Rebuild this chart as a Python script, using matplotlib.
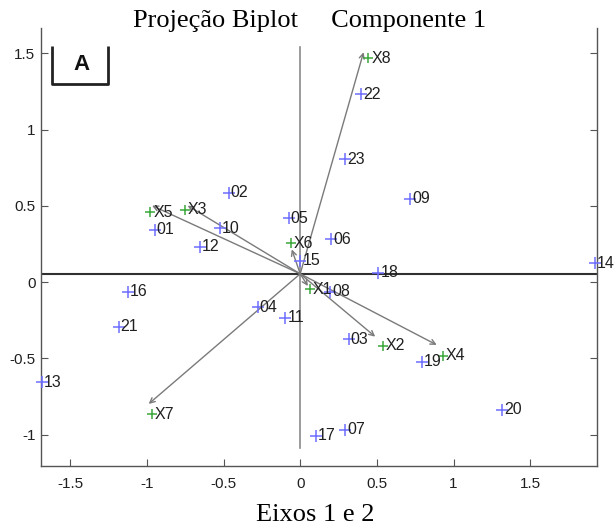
import matplotlib
matplotlib.use("Agg")
import matplotlib.pyplot as plt
from matplotlib.lines import Line2D

# ---- data ----
obs_labels = ['01', '02', '03', '04', '05', '06', '07', '08', '09', '10', '11', '12',
              '13', '14', '15', '16', '17', '18', '19', '20', '21', '22', '23']
obs_x = [-0.949, -0.467, 0.315, -0.278, -0.076, 0.200, 0.293, 0.195, 0.717, -0.526, -0.098, -0.656,
         -1.685, 1.922, 0.000, -1.123, 0.104, 0.510, 0.793, 1.314, -1.184, 0.397, 0.293]
obs_y = [0.343, 0.588, -0.374, -0.164, 0.420, 0.282, -0.969, -0.062, 0.546, 0.354, -0.232, 0.233,
         -0.656, 0.125, 0.140, -0.061, -1.006, 0.063, -0.521, -0.837, -0.291, 1.233, 0.807]

var_labels = ['X1', 'X2', 'X3', 'X4', 'X5', 'X6', 'X7', 'X8']
var_x = [0.065, 0.539, -0.749, 0.930, -0.977, -0.061, -0.966, 0.445]
var_y = [-0.046, -0.418, 0.474, -0.483, 0.459, 0.256, -0.866, 1.469]
# arrow tips of the loading vectors
vec_x = [0.050, 0.489, -0.734, 0.890, -0.966, -0.055, -0.988, 0.413]
vec_y = [-0.025, -0.357, 0.502, -0.411, 0.502, 0.215, -0.798, 1.508]
origin = (0.0, 0.055)

xlim = (-1.69, 1.935)
ylim = (-1.205, 1.667)
xticks = [-1.5, -1, -0.5, 0, 0.5, 1, 1.5]
yticks = [-1, -0.5, 0, 0.5, 1, 1.5]

# ---- figure ----
fig = plt.figure(figsize=(6.14, 5.26), dpi=100)
ax = fig.add_axes([0.0668, 0.1141, 0.9055, 0.8327])
ax.set_xlim(*xlim)
ax.set_ylim(*ylim)

sans = 'Liberation Sans'
serif = 'Liberation Serif'

# axes lines
ax.plot([0, 0], [-1.087, 1.545], color='#8a8a8a', lw=1.2, zorder=1)
ax.axhline(origin[1], color='#303030', lw=1.5, zorder=1)

# vectors
for vx, vy in zip(vec_x, vec_y):
    ax.annotate('', xy=(vx, vy), xytext=origin,
                arrowprops=dict(arrowstyle='->', color='#7a7a7a', lw=1.0,
                                shrinkA=0, shrinkB=0, mutation_scale=9),
                zorder=2)

# observations
ax.plot(obs_x, obs_y, linestyle='none', marker='+', color='#6e6eff',
        markersize=9, mew=1.1, clip_on=False, zorder=3)
for lab, x, y in zip(obs_labels, obs_x, obs_y):
    ax.annotate(lab, (x, y), xytext=(1.5, 0), textcoords='offset points',
                ha='left', va='center', fontsize=11.5, family=sans,
                color='#202020', annotation_clip=False, zorder=4)

# variables
ax.plot(var_x, var_y, linestyle='none', marker='+', color='#3aa83a',
        markersize=7, mew=1.1, clip_on=False, zorder=3)
for lab, x, y in zip(var_labels, var_x, var_y):
    ax.annotate(lab, (x, y), xytext=(2, 0), textcoords='offset points',
                ha='left', va='center', fontsize=11.5, family=sans,
                color='#202020', annotation_clip=False, zorder=4)

# spines / ticks
ax.spines['top'].set_visible(False)
for s in ['left', 'bottom', 'right']:
    ax.spines[s].set_color('#555555')
    ax.spines[s].set_linewidth(1.0)
ax.set_xticks(xticks)
ax.set_yticks(yticks)
ax.set_xticklabels(['-1.5', '-1', '-0.5', '0', '0.5', '1', '1.5'])
ax.set_yticklabels(['-1', '-0.5', '0', '0.5', '1', '1.5'])
ax.tick_params(direction='in', length=5, width=0.8, color='#555555',
               labelsize=11, labelcolor='#202020', right=True, top=False)
for t in ax.get_xticklabels() + ax.get_yticklabels():
    t.set_family(sans)
ax.tick_params(axis='x', pad=8)
ax.tick_params(axis='y', pad=4)

# "A" panel label (bracket box)
box = dict(color='#222222', lw=2.0, transform=fig.transFigure, solid_capstyle='butt')
x0, x1 = 52 / 614, 108 / 614
yt, yb = 1 - 46 / 526, 1 - 83.5 / 526
fig.add_artist(Line2D([x0, x0, x1, x1], [yt, yb, yb, yt], **box))
fig.text(82 / 614, 1 - 65 / 526, 'A', ha='center', va='center', fontsize=16,
         fontweight='bold', family=sans, color='#111111')

# title and x label
fig.text(310 / 614, 1 - 27.3 / 526, 'Projeção Biplot     Componente 1', ha='center',
         va='baseline', fontsize=19, family=serif, color='black')
fig.text(315.5 / 614, 1 - 521 / 526, 'Eixos 1 e 2', ha='center', va='baseline',
         fontsize=19, family=serif, color='black')

fig.savefig('out.png', dpi=100)
